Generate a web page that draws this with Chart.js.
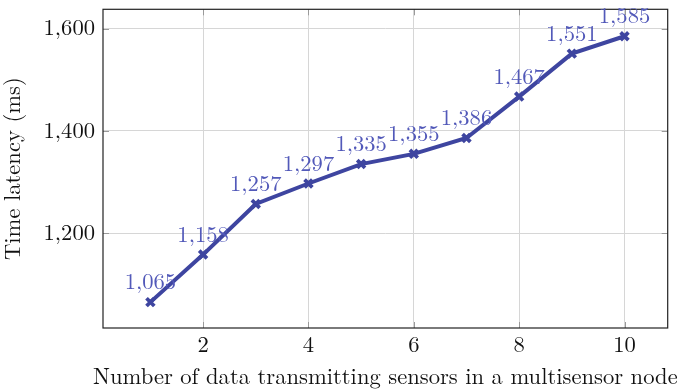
<!DOCTYPE html>
<html>
<head>
<meta charset="utf-8">
<script src="https://cdn.jsdelivr.net/npm/chart.js@4/dist/chart.umd.min.js"></script>
<style>
  html, body { margin: 0; padding: 0; background: #ffffff; overflow: hidden; }
  #chart { display: block; }
</style>
</head>
<body>
<canvas id="chart" width="677" height="390"></canvas>
<script>
// Number of transmitting sensors and the measured latency for each
const sensorCounts = [1, 2, 3, 4, 5, 6, 7, 8, 9, 10];
const latencyMs = [1065, 1158, 1257, 1297, 1335, 1355, 1386, 1467, 1551, 1585];
const xTickValues = [2, 4, 6, 8, 10];
const yTickValues = [1200, 1400, 1600];
const xAxisTitle = 'Number of data transmitting sensors in a multisensor node';
const yAxisTitle = 'Time latency (ms)';

const SERIF = "'Latin Modern Roman', 'CMU Serif', 'DejaVu Serif', serif";
const FONT_SIZE = 22.6;
const LINE_BLUE = '#3e45a0';
const LABEL_BLUE = '#5259b9';

const fmt = v => v.toLocaleString('en-US');

// Short tick marks pointing into the plot on all four sides
const innerTicks = {
  id: 'innerTicks',
  afterDatasetsDraw(chart) {
    const { ctx, chartArea: a, scales } = chart;
    const len = 6;
    ctx.save();
    ctx.strokeStyle = '#9a9a9a';
    ctx.lineWidth = 1;
    ctx.beginPath();
    xTickValues.forEach(v => {
      const x = Math.round(scales.x.getPixelForValue(v)) + 0.5;
      ctx.moveTo(x, a.bottom); ctx.lineTo(x, a.bottom - len);
      ctx.moveTo(x, a.top); ctx.lineTo(x, a.top + len);
    });
    yTickValues.forEach(v => {
      const y = Math.round(scales.y.getPixelForValue(v)) + 0.5;
      ctx.moveTo(a.left, y); ctx.lineTo(a.left + len, y);
      ctx.moveTo(a.right, y); ctx.lineTo(a.right - len, y);
    });
    ctx.stroke();
    // axis box
    ctx.strokeStyle = '#222222';
    ctx.lineWidth = 1.2;
    ctx.strokeRect(a.left, a.top, a.right - a.left, a.bottom - a.top);
    ctx.restore();
  }
};

// Value labels written just above each marker
const valueLabels = {
  id: 'valueLabels',
  afterDatasetsDraw(chart) {
    const { ctx } = chart;
    const meta = chart.getDatasetMeta(0);
    ctx.save();
    ctx.font = FONT_SIZE + 'px ' + SERIF;
    ctx.fillStyle = LABEL_BLUE;
    ctx.textAlign = 'center';
    ctx.textBaseline = 'alphabetic';
    meta.data.forEach((pt, i) => {
      ctx.fillText(fmt(latencyMs[i]), pt.x, pt.y - 13);
    });
    ctx.restore();
  }
};

// The x-axis title runs wider than the plot, so it is written at its natural width
const xTitle = {
  id: 'xTitle',
  afterDraw(chart) {
    const { ctx, chartArea: a } = chart;
    ctx.save();
    ctx.font = FONT_SIZE + 'px ' + SERIF;
    ctx.fillStyle = '#111111';
    ctx.textAlign = 'center';
    ctx.textBaseline = 'alphabetic';
    ctx.fillText(xAxisTitle, (a.left + a.right) / 2, 384);
    ctx.restore();
  }
};

new Chart(document.getElementById('chart'), {
  type: 'line',
  data: {
    datasets: [{
      data: sensorCounts.map((x, i) => ({ x, y: latencyMs[i] })),
      borderColor: LINE_BLUE,
      backgroundColor: LINE_BLUE,
      borderWidth: 4,
      pointStyle: 'crossRot',
      pointRadius: 5.5,
      pointBorderWidth: 3.8,
      pointBorderColor: LINE_BLUE,
      tension: 0,
      clip: false
    }]
  },
  options: {
    responsive: false,
    animation: false,
    devicePixelRatio: 1,
    layout: { padding: { top: 7, right: 7, left: 0, bottom: 0 } },
    plugins: { legend: { display: false }, tooltip: { enabled: false } },
    scales: {
      x: {
        type: 'linear',
        min: 0.1,
        max: 10.82,
        afterBuildTicks: s => { s.ticks = xTickValues.map(v => ({ value: v })); },
        afterFit: s => { s.height = 62; s.paddingLeft = 0; s.paddingRight = 0; },
        grid: { color: '#d6d6d6', lineWidth: 1, drawTicks: false },
        border: { display: false },
        ticks: {
          color: '#111111',
          font: { family: SERIF, size: FONT_SIZE },
          padding: 4,
          maxRotation: 0,
          callback: v => fmt(v)
        },
        title: { display: false }
      },
      y: {
        min: 1014.4,
        max: 1637.7,
        afterBuildTicks: s => { s.ticks = yTickValues.map(v => ({ value: v })); },
        afterFit: s => { s.width = 103; s.paddingTop = 0; s.paddingBottom = 0; },
        grid: { color: '#d6d6d6', lineWidth: 1, drawTicks: false },
        border: { display: false },
        ticks: {
          color: '#111111',
          font: { family: SERIF, size: FONT_SIZE },
          padding: 8,
          callback: v => fmt(v)
        },
        title: {
          display: true,
          text: yAxisTitle,
          color: '#111111',
          font: { family: SERIF, size: FONT_SIZE },
          padding: { top: 0, bottom: 0 }
        }
      }
    }
  },
  plugins: [innerTicks, valueLabels, xTitle]
});
</script>
</body>
</html>
